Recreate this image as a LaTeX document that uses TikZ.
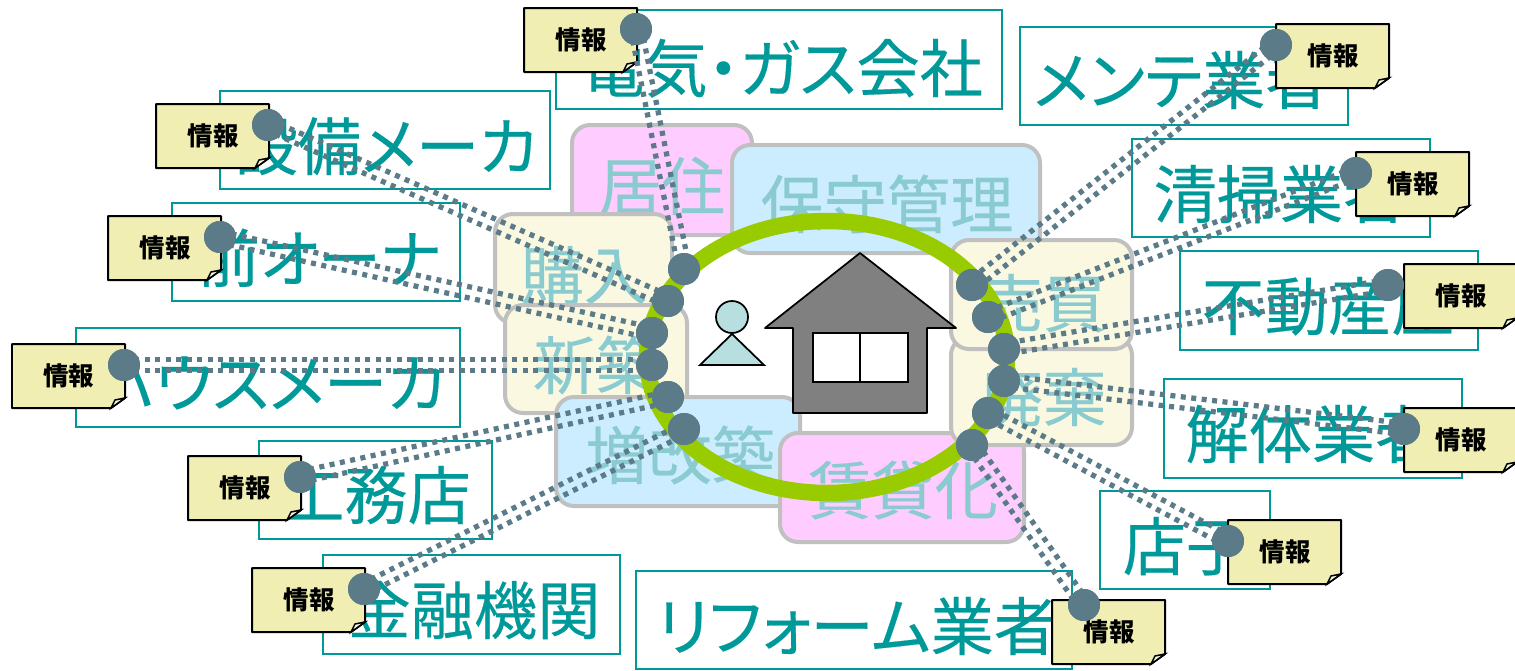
\documentclass[tikz,border=0pt]{standalone}
\usepackage{fontspec}
\newfontfamily\cjk[RawFeature=+palt, FakeBold=0.3]{Noto Sans CJK JP}
\newfontfamily\cjknote{Noto Sans CJK JP}
\usetikzlibrary{calc}
\definecolor{tealline}{HTML}{009999}
\definecolor{paletext}{HTML}{8ACBD0}
\definecolor{greyline}{HTML}{C0C0C0}
\definecolor{pinkfill}{HTML}{FFCCFF}
\definecolor{bluefill}{HTML}{CCECFF}
\definecolor{creamfill}{HTML}{FAF8E0}
\definecolor{notefill}{HTML}{F0EEB2}
\definecolor{dotcol}{HTML}{5A7B87}
\definecolor{ringcol}{HTML}{99CC00}
\definecolor{personcol}{HTML}{B8DFE0}
\tikzset{
  tealbox/.style={draw=tealline, line width=0.05cm, fill=white},
  tealtext/.style={text=tealline, font=\cjk\fontsize{36}{36}\selectfont, inner sep=0, text height=31.7pt, text depth=4.3pt},
  areabox/.style={draw=greyline, line width=0.08cm, rounded corners=0.36cm},
  areatext/.style={text=paletext, font=\cjk\fontsize{36}{36}\selectfont, inner sep=0, text height=31.7pt, text depth=4.3pt},
  notebox/.style={draw=black, line width=0.04cm, fill=notefill, line join=round},
  notefold/.style={draw=black, line width=0.03cm, fill=white!70!notefill},
  notetext/.style={text=black, font=\cjknote\bfseries\fontsize{14.5}{14.5}\selectfont, inner sep=0, text height=12.8pt, text depth=1.7pt},
  infodot/.style={circle, fill=dotcol, minimum size=0.64cm, inner sep=0},
  infolink/.style={draw=dotcol, line width=0.105cm, dash pattern=on 0.1cm off 0.11cm}
}
\newcommand{\infonote}[3]{%
  \begin{scope}[shift={(#2,#3)}]
    \draw[notebox] (0,0) -- (113,0) -- (113,54) -- (99,64) -- (0,64) -- cycle;
    \draw[notefold] (99,64) -- (103,56) -- (113,54) -- cycle;
    \node[notetext] (#1) at (57,32) {情報};
  \end{scope}}

\begin{document}
\begin{tikzpicture}[x=0.02cm, y=-0.02cm]
\useasboundingbox (0,0) rectangle (1515,670);

% outer companies
\draw[tealbox] (556,10) rectangle (1002,109);
\node[tealtext] (denki) at (782,68) {電気・ガス会社};
\draw[tealbox] (1020,27) rectangle (1348,125);
\node[tealtext] (mente) at (1181,80) {メンテ業者};
\draw[tealbox] (220,91) rectangle (550,189);
\node[tealtext] (setsubi) at (386,146) {設備メーカ};
\draw[tealbox] (172,203) rectangle (460,301);
\node[tealtext] (maeowner) at (319,258) {前オーナ};
\draw[tealbox] (76,328) rectangle (460,427);
\node[tealtext] (house) at (270,383) {ハウスメーカ};
\draw[tealbox] (259,441) rectangle (492,539);
\node[tealtext] (koumuten) at (376,495) {工務店};
\draw[tealbox] (323,555) rectangle (620,654);
\node[tealtext] (kinyu) at (474,610) {金融機関};
\draw[tealbox] (636,571) rectangle (1072,669);
\node[tealtext] (reform) at (857,626) {リフォーム業者};
\draw[tealbox] (1132,139) rectangle (1430,237);
\node[tealtext] (seisou) at (1280,194) {清掃業者};
\draw[tealbox] (1180,251) rectangle (1478,350);
\node[tealtext] (fudosan) at (1328,306) {不動産屋};
\draw[tealbox] (1164,379) rectangle (1462,478);
\node[tealtext] (kaitai) at (1312,434) {解体業者};
\draw[tealbox] (1100,491) rectangle (1270,589);
\node[tealtext] (tenant) at (1186,546) {店子};

% life cycle areas
\draw[areabox, fill=pinkfill] (572,125) rectangle (752,235);
\node[areatext] (kyoju) at (662,186) {居住};
\draw[areabox, fill=bluefill] (732,145) rectangle (1040,253);
\node[areatext] (hoshu) at (887,204) {保守管理};
\draw[areabox, fill=creamfill] (495,214) rectangle (672,323);
\node[areatext] (kounyu) at (584,275) {購入};
\draw[areabox, fill=creamfill] (505,305) rectangle (687,413);
\node[areatext] (shinchiku) at (596,365) {新築};
\draw[areabox, fill=bluefill] (556,397) rectangle (800,506);
\node[areatext] (zoukai) at (680,455) {増改築};
\draw[areabox, fill=pinkfill] (780,433) rectangle (1024,542);
\node[areatext] (chintai) at (903,490) {賃貸化};
\draw[areabox, fill=creamfill] (951,337) rectangle (1132,445);
\node[areatext] (haiki) at (1043,397) {廃棄};
\draw[areabox, fill=creamfill] (951,240) rectangle (1132,349);
\node[areatext] (baibai) at (1043,303) {売買};

% ring, house, person
\draw[draw=ringcol, line width=0.33cm] (827,357) ellipse [x radius=180, y radius=136];
\draw[draw=black, line width=0.035cm, fill=gray, line join=round] (860,253) -- (956,328) -- (927,328) -- (927,413) -- (793,413) -- (793,328) -- (765,328) -- cycle;
\draw[draw=black, line width=0.035cm, fill=white] (813,333) rectangle (908,382);
\draw[draw=black, line width=0.035cm] (860,333) -- (860,382);
\draw[draw=black, line width=0.035cm, fill=personcol] (732,317) circle [radius=16];
\draw[draw=black, line width=0.035cm, fill=personcol] (732,334) -- (764,365) -- (700,365) -- cycle;

% notes
\infonote{n1}{524}{8}
\infonote{n2}{156}{104}
\infonote{n3}{108}{216}
\infonote{n4}{12}{344}
\infonote{n5}{188}{456}
\infonote{n6}{252}{568}
\infonote{n7}{1276}{24}
\infonote{n8}{1356}{152}
\infonote{n9}{1404}{264}
\infonote{n10}{1404}{408}
\infonote{n11}{1228}{520}
\infonote{n12}{1052}{600}

% dots on the notes
\node[infodot] (a1) at (636,29) {};
\node[infodot] (a2) at (268,125) {};
\node[infodot] (a3) at (220,237) {};
\node[infodot] (a4) at (124,365) {};
\node[infodot] (a5) at (300,477) {};
\node[infodot] (a6) at (364,589) {};
\node[infodot] (a7) at (1276,45) {};
\node[infodot] (a8) at (1356,173) {};
\node[infodot] (a9) at (1388,285) {};
\node[infodot] (a10) at (1404,429) {};
\node[infodot] (a11) at (1228,541) {};
\node[infodot] (a12) at (1084,605) {};

% dots on the ring
\node[infodot] (b1) at (684,269) {};
\node[infodot] (b2) at (668,301) {};
\node[infodot] (b3) at (652,333) {};
\node[infodot] (b4) at (652,365) {};
\node[infodot] (b5) at (668,397) {};
\node[infodot] (b6) at (684,429) {};
\node[infodot] (b7) at (972,285) {};
\node[infodot] (b8) at (988,317) {};
\node[infodot] (b9) at (1004,349) {};
\node[infodot] (b10) at (1004,381) {};
\node[infodot] (b11) at (988,413) {};
\node[infodot] (b12) at (972,445) {};

\foreach \i in {1,...,12} {
  \draw[infolink] ($(a\i.center)!0.11cm!90:(b\i.center)$) -- ($(b\i.center)!0.11cm!-90:(a\i.center)$);
  \draw[infolink] ($(a\i.center)!0.11cm!-90:(b\i.center)$) -- ($(b\i.center)!0.11cm!90:(a\i.center)$);
  \node[infodot] at (a\i) {};
  \node[infodot] at (b\i) {};
}
\end{tikzpicture}
\end{document}
